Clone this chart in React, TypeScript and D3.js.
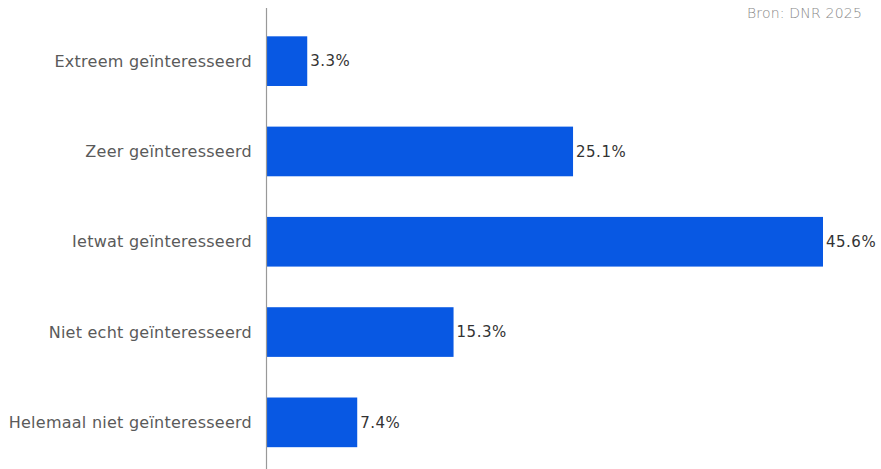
import React from "react";
import * as d3 from "d3";

const categories = [
  "Extreem geïnteresseerd",
  "Zeer geïnteresseerd",
  "Ietwat geïnteresseerd",
  "Niet echt geïnteresseerd",
  "Helemaal niet geïnteresseerd",
];
const values = [3.3, 25.1, 45.6, 15.3, 7.4];
const sourceText = "Bron: DNR 2025";

export default function App() {
  const W = 881;
  const H = 469;
  const x0 = 267;
  const x = d3.scaleLinear().domain([0, 45.6]).range([x0, 823]);
  const y = d3
    .scaleBand<string>()
    .domain(categories)
    .range([16, 467.5])
    .paddingInner(0.45)
    .paddingOuter(0.225);
  const font = "'DejaVu Sans', sans-serif";
  return (
    <svg
      width={W}
      height={H}
      style={{ position: "absolute", left: 0, top: 0, background: "#fff" }}
    >
      {categories.map((c, i) => {
        const yy = y(c)!;
        const bw = y.bandwidth();
        return (
          <g key={c}>
            <rect
              x={x0}
              y={yy}
              width={x(values[i]) - x0}
              height={bw}
              fill="#0858e3"
            />
            <text
              x={252}
              y={yy + bw / 2}
              dy="0.35em"
              textAnchor="end"
              fontFamily={font}
              fontSize={16}
              letterSpacing={0.25}
              fill="#5a5a5a"
            >
              {c}
            </text>
            <text
              x={x(values[i]) + 3}
              y={yy + bw / 2}
              dy="0.35em"
              fontFamily={font}
              fontSize={15}
              letterSpacing={0.5}
              fill="#333"
            >
              {values[i].toFixed(1) + "%"}
            </text>
          </g>
        );
      })}
      <line x1={266.5} x2={266.5} y1={8} y2={H} stroke="#999" strokeWidth={1.2} />
      <text
        x={862}
        y={18}
        textAnchor="end"
        fontFamily={font}
        fontSize={14}
        fontWeight={200}
        letterSpacing={0.2}
        fill="#888"
      >
        {sourceText}
      </text>
    </svg>
  );
}
